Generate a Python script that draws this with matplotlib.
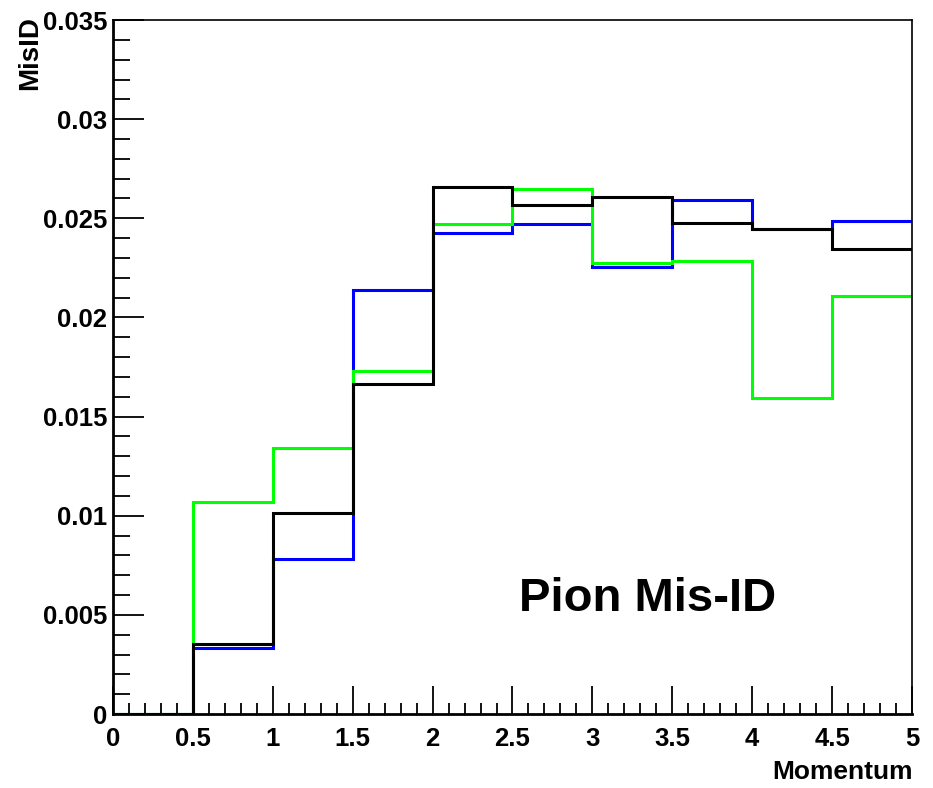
import numpy as np
import matplotlib
matplotlib.use("Agg")
import matplotlib.pyplot as plt
from matplotlib.ticker import MultipleLocator, FuncFormatter

plt.rcParams['font.family'] = ['Liberation Sans', 'DejaVu Sans']
plt.rcParams['font.weight'] = 'bold'

# momentum bin edges
edges = [0, 0.5, 1, 1.5, 2, 2.5, 3, 3.5, 4, 4.5, 5]

# mis-ID rates per bin
blue = [0, 0.00333, 0.00783, 0.02136, 0.02424, 0.0247, 0.02253, 0.02591, 0.02444, 0.02485]
green = [0, 0.01071, 0.01343, 0.01732, 0.0247, 0.02646, 0.02273, 0.02283, 0.01596, 0.02106]
black = [0, 0.00354, 0.01015, 0.01662, 0.02657, 0.02566, 0.02606, 0.02475, 0.02444, 0.02343]

fig = plt.figure(figsize=(9.33, 7.88), dpi=100)
ax = fig.add_axes([0.1211, 0.0939, 0.8564, 0.8807])

ax.stairs(blue, edges, baseline=None, color="#0000ff", lw=2.2)
ax.stairs(green, edges, baseline=None, color="#00ff00", lw=2.2)
ax.stairs(black, edges, baseline=None, color="black", lw=2.2)

ax.set_xlim(0, 5)
ax.set_ylim(0, 0.035)

ax.xaxis.set_major_locator(MultipleLocator(0.5))
ax.xaxis.set_minor_locator(MultipleLocator(0.1))
ax.yaxis.set_major_locator(MultipleLocator(0.005))
ax.yaxis.set_minor_locator(MultipleLocator(0.001))

def fmt(v, pos):
    return "%g" % round(v, 4)

ax.xaxis.set_major_formatter(FuncFormatter(fmt))
ax.yaxis.set_major_formatter(FuncFormatter(fmt))

ax.tick_params(which="both", direction="in", top=False, right=False, width=1.3)
ax.tick_params(which="major", length=22, labelsize=18.5)
ax.tick_params(axis="x", which="major", length=20, pad=9)
ax.tick_params(axis="x", which="minor", length=8)
ax.tick_params(axis="y", which="minor", length=12)
ax.tick_params(axis="y", which="major", pad=4)

for side in ["left", "bottom"]:
    ax.spines[side].set_linewidth(2)
for side in ["top", "right"]:
    ax.spines[side].set_linewidth(1.2)

for lab in ax.get_xticklabels() + ax.get_yticklabels():
    lab.set_fontweight("bold")

fig.text(0.978, 0.005, "Momentum", ha="right", va="bottom", fontsize=19, fontweight="bold")
fig.text(0.018, 0.98, "MisID", ha="left", va="top", rotation=90, fontsize=20, fontweight="bold")

ax.text(2.54, 0.0058, "Pion Mis-ID", fontsize=34, fontweight="bold", ha="left", va="center")

fig.savefig("out.png", dpi=100)
